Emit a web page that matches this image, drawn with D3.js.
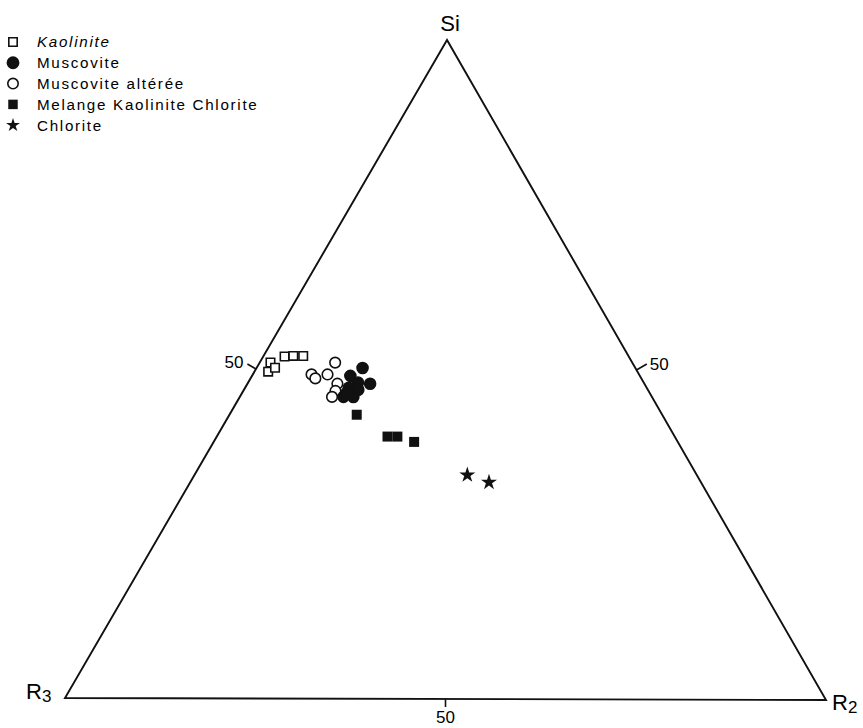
<!DOCTYPE html>
<html>
<head>
<meta charset="utf-8">
<script src="https://cdn.jsdelivr.net/npm/d3@7"></script>
<style>
  body { margin: 0; background: #fff; }
  svg { display: block; font-family: "Liberation Sans", Arial, sans-serif; }
</style>
</head>
<body>
<div id="chart"></div>
<script>
// ternary data: [Si %, R2 %] (R3 = 100 - Si - R2)
const kaolinite = [[49.6, 1.8], [51.0, 1.4], [50.2, 2.4], [51.9, 2.8], [52.0, 3.9], [52.0, 5.2]];
const muscovite = [[50.2, 13.9], [49.0, 12.9], [47.8, 16.1], [48.0, 14.4], [47.2, 13.6],
  [46.6, 14.4], [45.8, 13.6], [45.8, 14.9], [46.9, 15.0], [46.4, 13.7]];
const muscoviteAlteree = [[51.0, 9.9], [49.2, 7.7], [48.6, 8.5], [49.2, 9.8], [47.8, 11.8], [46.7, 12.1], [45.8, 12.1]];
const melange = [[43.1, 16.7], [39.8, 22.4], [39.8, 23.7], [39.0, 26.3]];
const chlorite = [[34.0, 35.8], [32.9, 39.2]];
const legendLabels = ["Kaolinite", "Muscovite", "Muscovite altérée", "Melange Kaolinite Chlorite", "Chlorite"];
const tickValue = 50;

const width = 863, height = 728;

// triangle corners (Si top, R3 bottom left, R2 bottom right)
const apex = [447, 40], left = [65, 698], right = [826, 700];

// percent -> fraction
const frac = d3.scaleLinear().domain([0, 100]).range([0, 1]);

function proj(si, r2) {
  const s = frac(si), c = frac(r2), b = 1 - s - c;
  return [s * apex[0] + b * left[0] + c * right[0], s * apex[1] + b * left[1] + c * right[1]];
}

const svg = d3.select("#chart").append("svg")
  .attr("width", width)
  .attr("height", height);

// triangle
svg.append("path")
  .attr("d", d3.line()([apex, left, right, apex]) + "Z")
  .attr("fill", "none")
  .attr("stroke", "#111")
  .attr("stroke-width", 1.9)
  .attr("stroke-linejoin", "miter");

// 50 ticks
const ticks = [
  { p: proj(tickValue, 0), d: [-0.86, -0.5], len: 10, lx: -4, ly: -2, anchor: "end" },      // left side
  { p: proj(tickValue, tickValue), d: [0.86, -0.5], len: 12, lx: 3, ly: 0, anchor: "start" },   // right side
  { p: proj(0, tickValue), d: [0, 1], len: 8, lx: 0, ly: 10, anchor: "middle" }               // base
];
ticks.forEach(t => {
  const end = [t.p[0] + t.d[0] * t.len, t.p[1] + t.d[1] * t.len];
  svg.append("line")
    .attr("x1", t.p[0]).attr("y1", t.p[1])
    .attr("x2", end[0]).attr("y2", end[1])
    .attr("stroke", "#111").attr("stroke-width", 1.6);
  svg.append("text")
    .attr("x", end[0] + t.lx)
    .attr("y", end[1] + t.ly)
    .attr("text-anchor", t.anchor)
    .attr("dy", "0.35em")
    .attr("font-size", 17)
    .text(tickValue);
});

// vertex labels
svg.append("text").attr("x", apex[0] + 3).attr("y", 31)
  .attr("text-anchor", "middle").attr("font-size", 22).text("Si");
const r3 = svg.append("text").attr("x", 26).attr("y", 699).attr("font-size", 22);
r3.append("tspan").text("R");
r3.append("tspan").attr("font-size", 17).attr("dy", 3).text("3");
const r2 = svg.append("text").attr("x", 832).attr("y", 710).attr("font-size", 22);
r2.append("tspan").text("R");
r2.append("tspan").attr("font-size", 17).attr("dy", 3).text("2");

// markers
const sym = (type, size) => d3.symbol(type, size)();
const series = [
  { data: kaolinite, path: sym(d3.symbolSquare, 72), fill: "#fff", stroke: "#111" },
  { data: muscoviteAlteree, path: sym(d3.symbolCircle, 88), fill: "#fff", stroke: "#111" },
  { data: muscovite, path: sym(d3.symbolCircle, 95), fill: "#111", stroke: "#111" },
  { data: melange, path: sym(d3.symbolSquare, 100), fill: "#111", stroke: "none" },
  { data: chlorite, path: sym(d3.symbolStar, 80), fill: "#111", stroke: "none" }
];
series.forEach(s => {
  svg.append("g")
    .selectAll("path")
    .data(s.data)
    .join("path")
    .attr("transform", d => `translate(${proj(d[0], d[1])})`)
    .attr("d", s.path)
    .attr("fill", s.fill)
    .attr("stroke", s.stroke)
    .attr("stroke-width", 1.6);
});

// legend
const legendSyms = [
  { path: sym(d3.symbolSquare, 70), fill: "#fff", stroke: "#111" },
  { path: sym(d3.symbolCircle, 100), fill: "#111", stroke: "#111" },
  { path: sym(d3.symbolCircle, 85), fill: "#fff", stroke: "#111" },
  { path: sym(d3.symbolSquare, 90), fill: "#111", stroke: "none" },
  { path: sym(d3.symbolStar, 60), fill: "#111", stroke: "none" }
];
const legend = svg.append("g").attr("transform", "translate(13,42)");
const rows = legend.selectAll("g")
  .data(legendLabels)
  .join("g")
  .attr("transform", (d, i) => `translate(0,${i * 20.8})`);
rows.append("path")
  .attr("d", (d, i) => legendSyms[i].path)
  .attr("fill", (d, i) => legendSyms[i].fill)
  .attr("stroke", (d, i) => legendSyms[i].stroke)
  .attr("stroke-width", 1.6);
rows.append("text")
  .attr("x", 24)
  .attr("dy", "0.36em")
  .attr("font-size", 15.2)
  .attr("letter-spacing", 1.7)
  .attr("font-style", (d, i) => i === 0 ? "italic" : "normal")
  .text(d => d);
</script>
</body>
</html>
